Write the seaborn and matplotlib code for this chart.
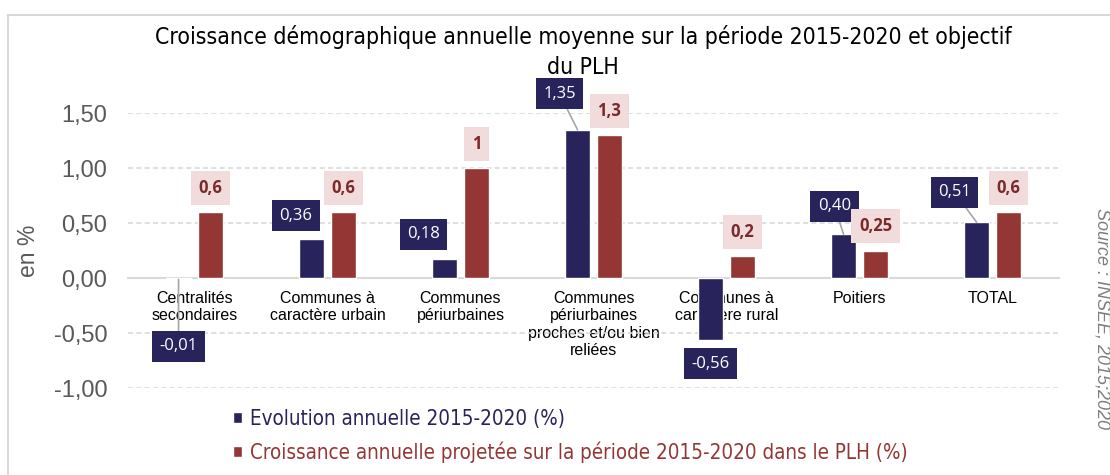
import seaborn as sns
import matplotlib.pyplot as plt
import pandas as pd
from matplotlib.patches import Rectangle

categories = ["Centralités\nsecondaires", "Communes à\ncaractère urbain", "Communes\npériurbaines",
              "Communes\npériurbaines\nproches et/ou bien\nreliées", "Communes à\ncaractère rural",
              "Poitiers", "TOTAL"]
evolution = [-0.01, 0.36, 0.18, 1.35, -0.56, 0.40, 0.51]
projection = [0.6, 0.6, 1.0, 1.3, 0.2, 0.25, 0.6]
series = ["Evolution annuelle 2015-2020 (%)",
          "Croissance annuelle projetée sur la période 2015-2020 dans le PLH (%)"]
y_ticks = [-1.0, -0.5, 0.0, 0.5, 1.0, 1.5]

# manual placement of the navy labels (pixels, from bar end) and leader lines
evo_offsets = [(0, -67), (-16, 23), (-21, 24), (-18, 36), (0, -24), (-9, 28), (-22, 30)]
evo_leader = [True, False, False, True, False, True, True]

navy = "#29235c"
red = "#943634"
pink = "#f2dcdb"
dark_red = "#7a2a2a"
grey = "#595959"

sns.set_style("white")
plt.rcParams['font.family'] = ['Liberation Sans', 'DejaVu Sans']

df = pd.DataFrame({
    "cat": categories * 2,
    "val": evolution + projection,
    "serie": [series[0]] * len(categories) + [series[1]] * len(categories),
})

fig = plt.figure(figsize=(11.1, 4.75), dpi=100)
ax = fig.add_axes([128 / 1110, 1 - 388.3 / 475, 931 / 1110, 275 / 475])

sns.barplot(data=df, x="cat", y="val", hue="serie", palette=[navy, red], saturation=1,
            width=0.48, gap=0.19, errorbar=None, ax=ax)

ax.set_ylim(-1.0, 1.5)
ax.set_xlim(-0.5, 6.5)
ax.set_yticks(y_ticks)
ax.set_yticklabels([f"{v:.2f}".replace(".", ",") for v in y_ticks], color=grey, fontsize=17)
ax.set_xlabel("")
ax.set_ylabel("en %", color=grey, fontsize=16.5)
ax.yaxis.set_label_coords(-0.094, 0.5)
ax.tick_params(axis="both", length=0)
ax.tick_params(axis="y", pad=15)
ax.tick_params(axis="x", pad=9, labelsize=11.5, labelcolor="#000000")
for lbl in ax.get_xticklabels():
    lbl.set_linespacing(1.65)

for s in ["top", "right", "left"]:
    ax.spines[s].set_visible(False)
ax.spines["bottom"].set_position(("data", 0))
ax.spines["bottom"].set_color("#d9d9d9")
ax.spines["bottom"].set_linewidth(1.5)
ax.spines["bottom"].set_zorder(0.5)

ax.set_axisbelow(True)
ax.yaxis.grid(True, color="#d9d9d9", linestyle=(0, (3, 2)), linewidth=1.2)
ax.xaxis.grid(False)

px = 72 / fig.dpi

# navy labels
for i, bar in enumerate(ax.containers[0]):
    x = bar.get_x() + bar.get_width() / 2
    v = evolution[i]
    dx, dy = evo_offsets[i]
    arrow = dict(arrowstyle="-", color="#a6a6a6", lw=1.2, shrinkA=0, shrinkB=0) if evo_leader[i] else None
    ax.annotate(f"{v:.2f}".replace(".", ","), xy=(x, v), xytext=(dx * px, dy * px),
                textcoords="offset points", ha="center", va="center",
                family="Open Sans", fontsize=12, color="white",
                bbox=dict(boxstyle="square,pad=0.45", fc=navy, ec="none"),
                arrowprops=arrow, annotation_clip=False)

# red labels
for i, bar in enumerate(ax.containers[1]):
    x = bar.get_x() + bar.get_width() / 2
    v = projection[i]
    ax.annotate(f"{v:g}".replace(".", ","), xy=(x, v), xytext=(0, 24.5 * px),
                textcoords="offset points", ha="center", va="center",
                family="Open Sans", fontsize=12, fontweight="bold", color=dark_red,
                bbox=dict(boxstyle="square,pad=0.48", fc=pink, ec="none"),
                annotation_clip=False)

# legend
handles, labels = ax.get_legend_handles_labels()
leg = ax.legend(handles, labels, loc="upper left", bbox_to_anchor=(233 / 1110, 1 - 409 / 475),
                bbox_transform=fig.transFigure, frameon=False, borderpad=0, borderaxespad=0,
                handlelength=0.45, handleheight=0.45, handletextpad=0.4, labelspacing=0.62,
                prop=dict(family="DejaVu Sans", stretch="condensed", size=14.8))
for t, c in zip(leg.get_texts(), [navy, red]):
    t.set_color(c)

# title
fig.text(583 / 1110, 1 - 52 / 475,
         "Croissance démographique annuelle moyenne sur la période 2015-2020 et objectif\ndu PLH",
         ha="center", va="center", fontsize=16.5, family="DejaVu Sans", fontstretch="condensed",
         color="#000000", linespacing=1.4)

# source
fig.text(1101.7 / 1110, 1 - 318 / 475, "Source : INSEE, 2015;2020", rotation=-90,
         ha="center", va="center", fontsize=13, style="italic", color="#7f7f7f")

# outer frame
fig.patches.append(Rectangle((8 / 1110, -0.1), 1.2, 1 - 15 / 475 + 0.1, transform=fig.transFigure,
                             fill=False, ec="#d9d9d9", lw=1.5))

fig.savefig("out.png", dpi=100)
